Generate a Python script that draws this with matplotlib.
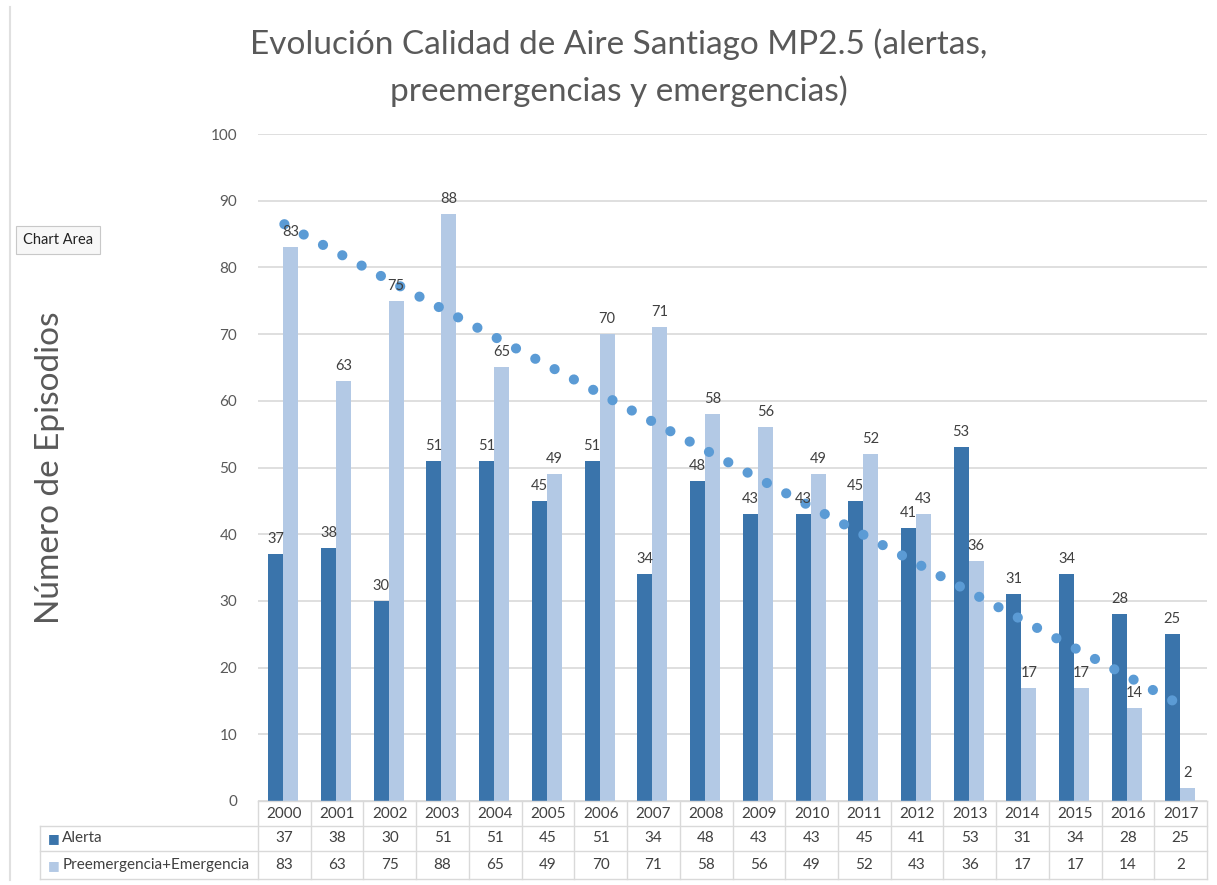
import numpy as np
import matplotlib
matplotlib.use("Agg")
from matplotlib import pyplot as plt
from matplotlib.lines import Line2D

plt.rcParams['font.family'] = ['Lato', 'DejaVu Sans']

years = ['2000', '2001', '2002', '2003', '2004', '2005', '2006', '2007', '2008',
         '2009', '2010', '2011', '2012', '2013', '2014', '2015', '2016', '2017']
alerta = [37, 38, 30, 51, 51, 45, 51, 34, 48, 43, 43, 45, 41, 53, 31, 34, 28, 25]
preemergencia = [83, 63, 75, 88, 65, 49, 70, 71, 58, 56, 49, 52, 43, 36, 17, 17, 14, 2]
series_names = ['Alerta', 'Preemergencia+Emergencia']

DARK = '#3A74AB'
LIGHT = '#B3C9E5'
TREND = '#5B9BD5'
GRAY = '#595959'
GRID = '#D9D9D9'

W, H = 1217, 885
fig = plt.figure(figsize=(W / 100, H / 100), dpi=100)

# plot area in pixel coordinates of the reference
px_left, px_right, px_top, px_bottom = 258, 1207, 134, 801
ax = fig.add_axes([px_left / W, 1 - px_bottom / H,
                   (px_right - px_left) / W, (px_bottom - px_top) / H])

x = np.arange(len(years))
bw = 0.285
ax.bar(x - bw / 2 - 0.02, alerta, bw, color=DARK, zorder=2)
ax.bar(x + bw / 2 - 0.02, preemergencia, bw, color=LIGHT, zorder=2)

for i in range(len(years)):
    ax.text(x[i] - bw / 2 - 0.02, alerta[i] + 1.2, str(alerta[i]), ha='center',
            va='bottom', fontsize=10.5, color='#404040', zorder=4)
    ax.text(x[i] + bw / 2 - 0.02, preemergencia[i] + 1.2, str(preemergencia[i]),
            ha='center', va='bottom', fontsize=10.5, color='#404040', zorder=4)

# linear trendline for Preemergencia+Emergencia (round dots)
slope, intercept = np.polyfit(x, preemergencia, 1)
ax.plot(x, slope * x + intercept, color=TREND, lw=7.3,
        linestyle=(0, (0.01, 2.15)), dash_capstyle='round', zorder=3)

ax.set_xlim(-0.5, len(years) - 0.5)
ax.set_ylim(0, 100)
ax.set_yticks(range(0, 101, 10))
ax.yaxis.grid(True, color=GRID, lw=1.2, zorder=0)
ax.tick_params(axis='y', length=0, labelsize=11, labelcolor=GRAY, pad=15)
ax.set_xticks([])
for s in ax.spines.values():
    s.set_visible(False)

fig.text(619 / W, 1 - 68 / H,
         'Evolución Calidad de Aire Santiago MP2.5 (alertas,\npreemergencias y emergencias)',
         ha='center', va='center', fontsize=24, color=GRAY, linespacing=1.6)

fig.text(50 / W, 1 - 468 / H, 'Número de Episodios', rotation=90, ha='center',
         va='center', fontsize=24, color=GRAY)

# data table under the plot
ppx = (px_right - px_left) / len(years)
tr = ax.get_xaxis_transform()
row_h = [25, 25, 28]
bounds = [0]
for h in row_h:
    bounds.append(bounds[-1] - h / (px_bottom - px_top))
x_tab_left = -0.5 - (px_left - 40) / ppx
x_right = len(years) - 0.5

kw = dict(color=GRID, lw=1, transform=tr, clip_on=False)
ax.add_line(Line2D([-0.5, x_right], [bounds[0], bounds[0]], **kw))
for b in bounds[1:]:
    ax.add_line(Line2D([x_tab_left, x_right], [b, b], **kw))
for k in range(len(years) + 1):
    ax.add_line(Line2D([k - 0.5, k - 0.5], [bounds[0], bounds[3]], **kw))
ax.add_line(Line2D([x_tab_left, x_tab_left], [bounds[1], bounds[3]], **kw))

rows = [years, alerta, preemergencia]
for r, vals in enumerate(rows):
    yc = (bounds[r] + bounds[r + 1]) / 2
    for i, v in enumerate(vals):
        ax.text(x[i], yc, str(v), ha='center', va='center', fontsize=11,
                color='#404040', transform=tr, clip_on=False)

for r, (name, col) in enumerate(zip(series_names, [DARK, LIGHT])):
    yc = (bounds[r + 1] + bounds[r + 2]) / 2
    ax.text(x_tab_left + 0.14, yc, '■', ha='left', va='center', fontsize=9,
            color=col, transform=tr, clip_on=False)
    ax.text(x_tab_left + 0.42, yc, name, ha='left', va='center', fontsize=11,
            color='#404040', transform=tr, clip_on=False)

# chart frame edge and tooltip
fig.add_artist(Line2D([10 / W, 10 / W], [1 - 880 / H, 1 - 7 / H], color='#E0E0E0',
                      lw=1.5, transform=fig.transFigure))
fig.text(58 / W, 1 - 240 / H, 'Chart Area', ha='center', va='center', fontsize=10.5,
         color='#222222',
         bbox=dict(boxstyle='square,pad=0.5', fc='#F7F7F7', ec='#C8C8C8', lw=0.8))

fig.savefig('out.png', dpi=100, facecolor='white')
